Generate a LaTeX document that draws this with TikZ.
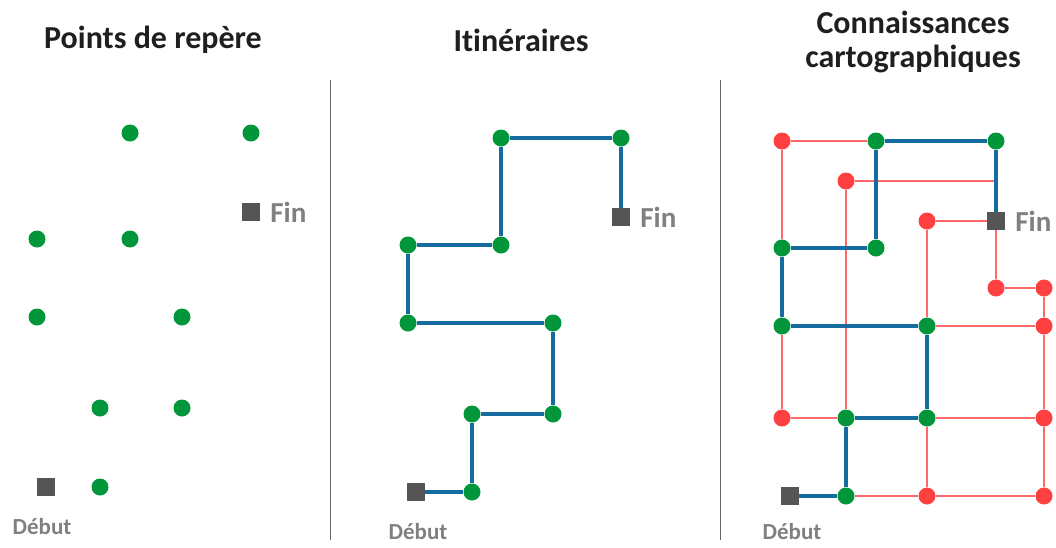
\documentclass[tikz,border=0pt]{standalone}
\usepackage{fontspec}
\setmainfont{Carlito}[Ligatures=NoCommon]
\usetikzlibrary{positioning}
\definecolor{ptgreen}{RGB}{0,150,57}
\definecolor{ptred}{RGB}{255,64,64}
\definecolor{lnred}{RGB}{255,105,105}
\definecolor{lnblue}{RGB}{22,108,160}
\definecolor{ptgray}{RGB}{85,85,85}
\definecolor{txgray}{RGB}{128,128,128}
\begin{document}
\begin{tikzpicture}[
    x=1pt, y=-1pt,
    gdot/.style={circle, fill=ptgreen, minimum size=17pt, inner sep=0pt},
    rdot/.style={circle, fill=ptred, minimum size=17pt, inner sep=0pt},
    sq/.style={rectangle, fill=ptgray, minimum size=18pt, inner sep=0pt},
    titre/.style={font=\bfseries\fontsize{32}{34}\selectfont, text=black!88, align=center, inner sep=0pt},
    lbl/.style={font=\bfseries\fontsize{29}{34}\selectfont, text=txgray, inner sep=0pt},
    lblsm/.style={font=\bfseries\fontsize{23}{27}\selectfont, text=txgray, inner sep=0pt},
    route/.style={line width=3.2pt, lnblue},
    carte/.style={line width=2pt, lnred},
    sep/.style={line width=1pt, black!60}
]
\useasboundingbox (0,0) rectangle (1056,547);

% titres
\node[titre] (t1) at (153,40) {Points de repère};
\node[titre] (t2) at (521,40) {Itinéraires};
\node[titre] (t3) at (913,42) {Connaissances\\cartographiques};

\draw[sep] (330,80) -- (330,540);
\draw[sep] (720,80) -- (720,540);

% points de repere
\node[gdot] (a1) at (130,133) {};
\node[gdot] (a2) at (251,133) {};
\node[gdot] (a3) at (37,239) {};
\node[gdot] (a4) at (130,239) {};
\node[gdot] (a5) at (37,317) {};
\node[gdot] (a6) at (182,317) {};
\node[gdot] (a7) at (100,408) {};
\node[gdot] (a8) at (182,408) {};
\node[gdot] (a9) at (100,487) {};
\node[sq] (fin1) at (251,212) {};
\node[sq] (deb1) at (46,487) {};
\node[lbl, right=10pt of fin1] {Fin};
\node[lblsm, below=22pt of deb1, xshift=-4pt] {Début};

% itineraires
\node[gdot] (b1) at (472,492) {};
\node[gdot] (b2) at (472,414) {};
\node[gdot] (b3) at (553,414) {};
\node[gdot] (b4) at (553,323) {};
\node[gdot] (b5) at (408,323) {};
\node[gdot] (b6) at (408,245) {};
\node[gdot] (b7) at (501,245) {};
\node[gdot] (b8) at (501,138) {};
\node[gdot] (b9) at (621,138) {};
\node[sq] (fin2) at (621,217) {};
\node[sq] (deb2) at (416,492) {};
\node[lbl, right=10pt of fin2] {Fin};
\node[lblsm, below=22pt of deb2, xshift=2pt] {Début};

\draw[route] (deb2) -- (b1) -- (b2) -- (b3) -- (b4) -- (b5) -- (b6) -- (b7) -- (b8) -- (b9) -- (fin2);

% connaissances cartographiques
\node[rdot] (r1) at (782,141) {};
\node[rdot] (r2) at (846,181) {};
\node[rdot] (r3) at (927,221) {};
\node[rdot] (r4) at (996,288) {};
\node[rdot] (r5) at (1044,288) {};
\node[rdot] (r6) at (1044,326) {};
\node[rdot] (r7) at (782,418) {};
\node[rdot] (r8) at (1044,418) {};
\node[rdot] (r9) at (927,496) {};
\node[rdot] (r10) at (1044,496) {};
\node[gdot] (c1) at (876,141) {};
\node[gdot] (c2) at (996,141) {};
\node[gdot] (c3) at (782,248) {};
\node[gdot] (c4) at (876,248) {};
\node[gdot] (c5) at (782,326) {};
\node[gdot] (c6) at (927,326) {};
\node[gdot] (c7) at (846,418) {};
\node[gdot] (c8) at (927,418) {};
\node[gdot] (c9) at (846,496) {};
\node[sq] (fin3) at (996,221) {};
\node[sq] (deb3) at (790,496) {};
\coordinate (j1) at (996,181);
\node[lbl, right=10pt of fin3] {Fin};
\node[lblsm, below=18pt of deb3, xshift=2pt] {Début};

\draw[carte] (r1) -- (c1);
\draw[carte] (r1) -- (c3);
\draw[carte] (r2) -- (j1);
\draw[carte] (r2) -- (c7);
\draw[carte] (r3) -- (fin3);
\draw[carte] (r3) -- (c6);
\draw[carte] (fin3) -- (r4) -- (r5) -- (r6) -- (r8) -- (r10);
\draw[carte] (c6) -- (r6);
\draw[carte] (c5) -- (r7) -- (c7);
\draw[carte] (c8) -- (r8);
\draw[carte] (c8) -- (r9);
\draw[carte] (c9) -- (r9) -- (r10);

\draw[route] (deb3) -- (c9) -- (c7) -- (c8) -- (c6) -- (c5) -- (c3) -- (c4) -- (c1) -- (c2) -- (fin3);

\end{tikzpicture}
\end{document}
